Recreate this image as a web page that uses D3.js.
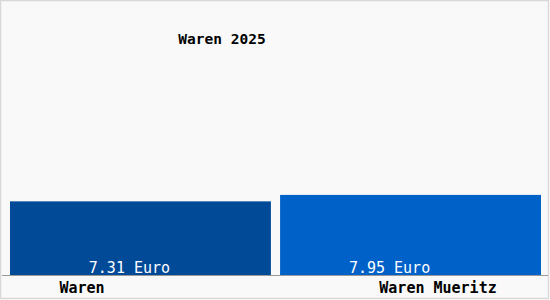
<!DOCTYPE html>
<html>
<head>
  <meta charset="utf-8">
  <title>Waren 2025</title>
  <script src="https://d3js.org/d3.v7.min.js"></script>
  <style>
    body { margin: 0; background: #fff; }
    svg { display: block; }
    text { font-family: "DejaVu Sans Mono", monospace; }
  </style>
</head>
<body>
  <div id="chart"></div>
  <script>
    // chart data
    var title = "Waren 2025";
    var categories = ["Waren", "Waren Mueritz"];
    var values = [7.31, 7.95];
    var valueLabels = ["7.31 Euro", "7.95 Euro"];
    var colors = ["#004a98", "#0061c8"];

    function drawChart() {
      var width = 550, height = 300;
      var baseY = 275;

      var svg = d3.select("#chart").append("svg")
        .attr("width", width)
        .attr("height", height);

      // frame
      svg.append("rect")
        .attr("x", 0.5).attr("y", 0.5)
        .attr("width", width - 2).attr("height", height - 2)
        .attr("fill", "#f9f9f9")
        .attr("stroke", "#d8d8d8")
        .attr("stroke-width", 1.5);

      var x = d3.scaleBand()
        .domain(categories)
        .range([10, 541])
        .paddingInner(0.034);

      var y = d3.scaleLinear()
        .domain([0, 27])
        .range([baseY, 3]);

      svg.append("text")
        .attr("x", 222)
        .attr("y", 44)
        .attr("text-anchor", "middle")
        .attr("font-size", "14.5px")
        .attr("font-weight", "bold")
        .attr("fill", "#000")
        .text(title);

      var bars = svg.append("g");

      bars.selectAll("rect")
        .data(values)
        .enter()
        .append("rect")
        .attr("x", (d, i) => x(categories[i]))
        .attr("y", d => y(d))
        .attr("width", x.bandwidth())
        .attr("height", d => y(0) - y(d))
        .attr("fill", (d, i) => colors[i]);

      // value labels sit a bit left of the bar centre
      var labelShift = [-11, -21];
      bars.selectAll("text")
        .data(valueLabels)
        .enter()
        .append("text")
        .attr("x", (d, i) => x(categories[i]) + x.bandwidth() / 2 + labelShift[i])
        .attr("y", 273)
        .attr("text-anchor", "middle")
        .attr("font-size", "15px")
        .attr("fill", "#fff")
        .text(d => d);

      // baseline
      svg.append("line")
        .attr("x1", 2).attr("x2", 548)
        .attr("y1", baseY + 0.5).attr("y2", baseY + 0.5)
        .attr("stroke", "#999");

      // category labels
      var catX = [82, 438];
      svg.selectAll(".cat")
        .data(categories)
        .enter()
        .append("text")
        .attr("class", "cat")
        .attr("x", (d, i) => catX[i])
        .attr("y", 293)
        .attr("text-anchor", "middle")
        .attr("font-size", "15px")
        .attr("font-weight", "bold")
        .attr("fill", "#000")
        .text(d => d);
    }

    drawChart();
  </script>
</body>
</html>
